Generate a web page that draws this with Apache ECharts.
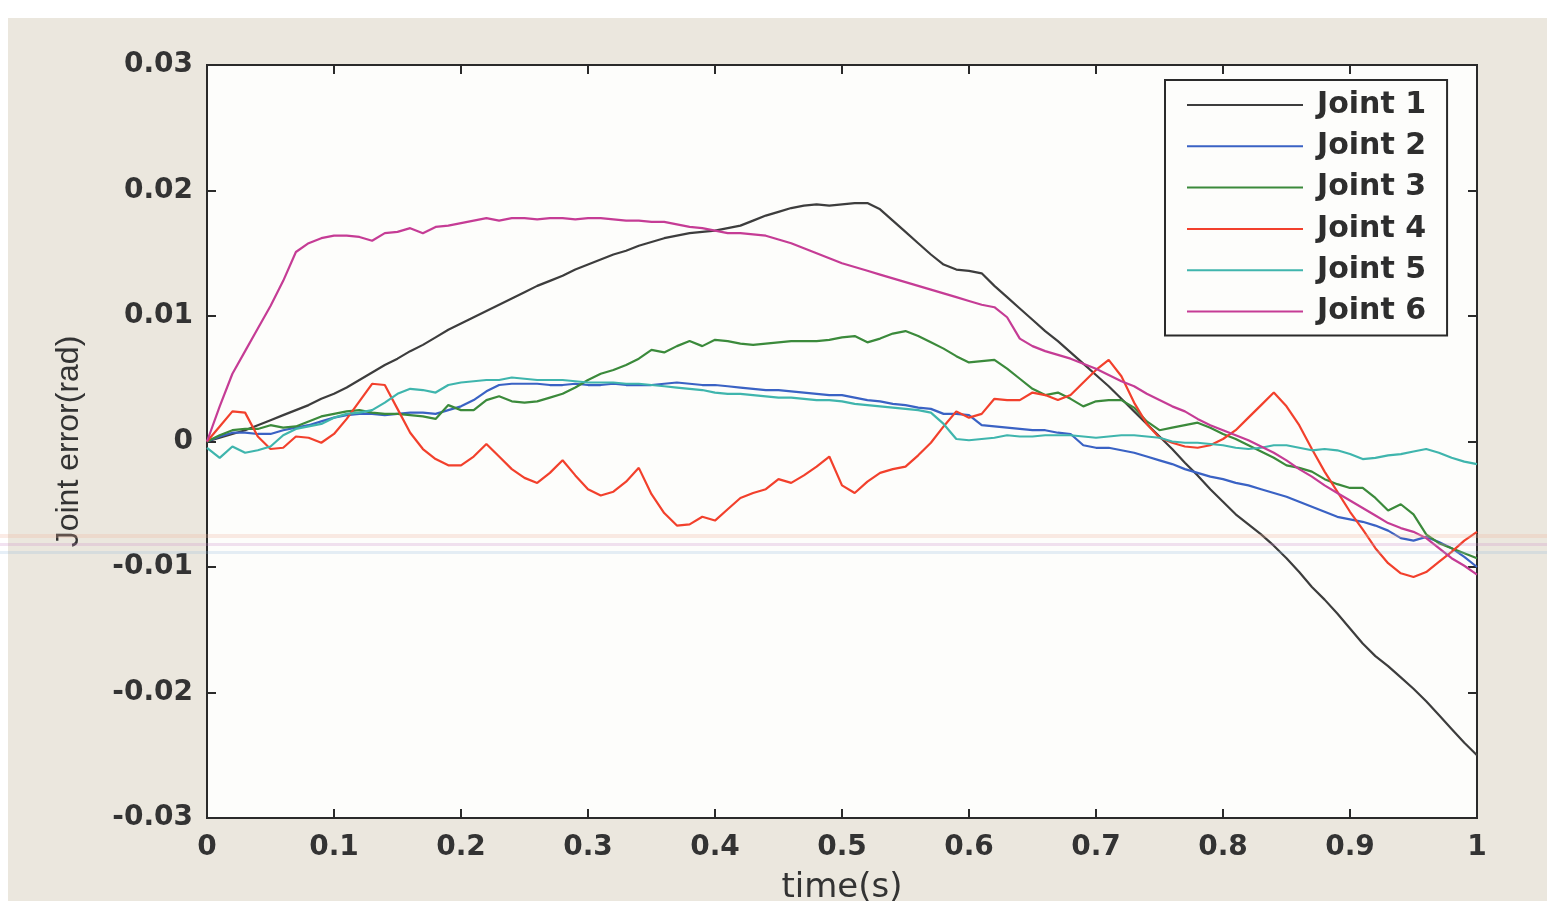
<!DOCTYPE html>
<html>
<head>
<meta charset="utf-8">
<script src="https://cdn.jsdelivr.net/npm/echarts@6/dist/echarts.min.js"></script>
<style>
  html, body { margin: 0; padding: 0; background: #ffffff; }
  #chart { width: 1547px; height: 901px; }
</style>
</head>
<body>
<div id="chart"></div>
<script>
// Sampling instants (s)
const time = [
  0.00,0.01,0.02,0.03,0.04,0.05,0.06,0.07,0.08,0.09,
  0.10,0.11,0.12,0.13,0.14,0.15,0.16,0.17,0.18,0.19,
  0.20,0.21,0.22,0.23,0.24,0.25,0.26,0.27,0.28,0.29,
  0.30,0.31,0.32,0.33,0.34,0.35,0.36,0.37,0.38,0.39,
  0.40,0.41,0.42,0.43,0.44,0.45,0.46,0.47,0.48,0.49,
  0.50,0.51,0.52,0.53,0.54,0.55,0.56,0.57,0.58,0.59,
  0.60,0.61,0.62,0.63,0.64,0.65,0.66,0.67,0.68,0.69,
  0.70,0.71,0.72,0.73,0.74,0.75,0.76,0.77,0.78,0.79,
  0.80,0.81,0.82,0.83,0.84,0.85,0.86,0.87,0.88,0.89,
  0.90,0.91,0.92,0.93,0.94,0.95,0.96,0.97,0.98,0.99,
  1.00
];

const seriesNames = ['Joint 1', 'Joint 2', 'Joint 3', 'Joint 4', 'Joint 5', 'Joint 6'];

// Joint tracking errors (rad)
const joint1 = [
  0, 0.0003, 0.0006, 0.0009, 0.0013, 0.0017, 0.0021, 0.0025, 0.0029, 0.0034,
  0.0038, 0.0043, 0.0049, 0.0055, 0.0061, 0.0066, 0.0072, 0.0077, 0.0083, 0.0089,
  0.0094, 0.0099, 0.0104, 0.0109, 0.0114, 0.0119, 0.0124, 0.0128, 0.0132, 0.0137,
  0.0141, 0.0145, 0.0149, 0.0152, 0.0156, 0.0159, 0.0162, 0.0164, 0.0166, 0.0167,
  0.0168, 0.0170, 0.0172, 0.0176, 0.0180, 0.0183, 0.0186, 0.0188, 0.0189, 0.0188,
  0.0189, 0.0190, 0.0190, 0.0185, 0.0176, 0.0167, 0.0158, 0.0149, 0.0141, 0.0137,
  0.0136, 0.0134, 0.0124, 0.0115, 0.0106, 0.0097, 0.0088, 0.0080, 0.0071, 0.0062,
  0.0053, 0.0044, 0.0034, 0.0024, 0.0014, 0.0004, -0.0006, -0.0017, -0.0027, -0.0038,
  -0.0048, -0.0058, -0.0066, -0.0074, -0.0083, -0.0093, -0.0104, -0.0116, -0.0126, -0.0137,
  -0.0149, -0.0161, -0.0171, -0.0179, -0.0188, -0.0197, -0.0207, -0.0218, -0.0229, -0.0240,
  -0.0250
];
const joint2 = [
  0, 0.0004, 0.0007, 0.0007, 0.0006, 0.0006, 0.0009, 0.0011, 0.0013, 0.0016,
  0.0019, 0.0021, 0.0022, 0.0022, 0.0021, 0.0022, 0.0023, 0.0023, 0.0022, 0.0025,
  0.0028, 0.0033, 0.0040, 0.0045, 0.0046, 0.0046, 0.0046, 0.0045, 0.0045, 0.0046,
  0.0045, 0.0045, 0.0046, 0.0045, 0.0045, 0.0045, 0.0046, 0.0047, 0.0046, 0.0045,
  0.0045, 0.0044, 0.0043, 0.0042, 0.0041, 0.0041, 0.0040, 0.0039, 0.0038, 0.0037,
  0.0037, 0.0035, 0.0033, 0.0032, 0.0030, 0.0029, 0.0027, 0.0026, 0.0022, 0.0022,
  0.0021, 0.0013, 0.0012, 0.0011, 0.0010, 0.0009, 0.0009, 0.0007, 0.0006, -0.0003,
  -0.0005, -0.0005, -0.0007, -0.0009, -0.0012, -0.0015, -0.0018, -0.0022, -0.0025, -0.0028,
  -0.0030, -0.0033, -0.0035, -0.0038, -0.0041, -0.0044, -0.0048, -0.0052, -0.0056, -0.0060,
  -0.0062, -0.0064, -0.0067, -0.0071, -0.0077, -0.0079, -0.0076, -0.0080, -0.0085, -0.0092,
  -0.0100
];
const joint3 = [
  0, 0.0005, 0.0009, 0.0010, 0.0010, 0.0013, 0.0011, 0.0012, 0.0016, 0.0020,
  0.0022, 0.0024, 0.0025, 0.0023, 0.0022, 0.0022, 0.0021, 0.0020, 0.0018, 0.0029,
  0.0025, 0.0025, 0.0033, 0.0036, 0.0032, 0.0031, 0.0032, 0.0035, 0.0038, 0.0043,
  0.0049, 0.0054, 0.0057, 0.0061, 0.0066, 0.0073, 0.0071, 0.0076, 0.0080, 0.0076,
  0.0081, 0.0080, 0.0078, 0.0077, 0.0078, 0.0079, 0.0080, 0.0080, 0.0080, 0.0081,
  0.0083, 0.0084, 0.0079, 0.0082, 0.0086, 0.0088, 0.0084, 0.0079, 0.0074, 0.0068,
  0.0063, 0.0064, 0.0065, 0.0058, 0.0050, 0.0042, 0.0037, 0.0039, 0.0034, 0.0028,
  0.0032, 0.0033, 0.0033, 0.0027, 0.0016, 0.0009, 0.0011, 0.0013, 0.0015, 0.0011,
  0.0006, 0.0002, -0.0003, -0.0008, -0.0013, -0.0019, -0.0021, -0.0024, -0.0030, -0.0034,
  -0.0037, -0.0037, -0.0045, -0.0055, -0.0050, -0.0058, -0.0074, -0.0081, -0.0085, -0.0089,
  -0.0093
];
const joint4 = [
  0, 0.0012, 0.0024, 0.0023, 0.0004, -0.0006, -0.0005, 0.0004, 0.0003, -0.0001,
  0.0006, 0.0018, 0.0032, 0.0046, 0.0045, 0.0026, 0.0007, -0.0006, -0.0014, -0.0019,
  -0.0019, -0.0012, -0.0002, -0.0012, -0.0022, -0.0029, -0.0033, -0.0025, -0.0015, -0.0027,
  -0.0038, -0.0043, -0.0040, -0.0032, -0.0021, -0.0042, -0.0057, -0.0067, -0.0066, -0.0060,
  -0.0063, -0.0054, -0.0045, -0.0041, -0.0038, -0.0030, -0.0033, -0.0027, -0.0020, -0.0012,
  -0.0035, -0.0041, -0.0032, -0.0025, -0.0022, -0.0020, -0.0011, -0.0001, 0.0012, 0.0024,
  0.0019, 0.0022, 0.0034, 0.0033, 0.0033, 0.0039, 0.0037, 0.0033, 0.0037, 0.0047,
  0.0057, 0.0065, 0.0052, 0.0031, 0.0014, 0.0003, -0.0001, -0.0004, -0.0005, -0.0003,
  0.0002, 0.0009, 0.0019, 0.0029, 0.0039, 0.0028, 0.0013, -0.0006, -0.0024, -0.0040,
  -0.0056, -0.0070, -0.0085, -0.0097, -0.0105, -0.0108, -0.0104, -0.0096, -0.0088, -0.0079,
  -0.0072
];
const joint5 = [
  -0.0005, -0.0013, -0.0004, -0.0009, -0.0007, -0.0004, 0.0005, 0.0010, 0.0012, 0.0014,
  0.0019, 0.0022, 0.0023, 0.0025, 0.0031, 0.0038, 0.0042, 0.0041, 0.0039, 0.0045,
  0.0047, 0.0048, 0.0049, 0.0049, 0.0051, 0.0050, 0.0049, 0.0049, 0.0049, 0.0048,
  0.0047, 0.0047, 0.0047, 0.0046, 0.0046, 0.0045, 0.0044, 0.0043, 0.0042, 0.0041,
  0.0039, 0.0038, 0.0038, 0.0037, 0.0036, 0.0035, 0.0035, 0.0034, 0.0033, 0.0033,
  0.0032, 0.0030, 0.0029, 0.0028, 0.0027, 0.0026, 0.0025, 0.0023, 0.0014, 0.0002,
  0.0001, 0.0002, 0.0003, 0.0005, 0.0004, 0.0004, 0.0005, 0.0005, 0.0005, 0.0004,
  0.0003, 0.0004, 0.0005, 0.0005, 0.0004, 0.0003, 0.0000, -0.0001, -0.0001, -0.0002,
  -0.0003, -0.0005, -0.0006, -0.0005, -0.0003, -0.0003, -0.0005, -0.0007, -0.0006, -0.0007,
  -0.0010, -0.0014, -0.0013, -0.0011, -0.0010, -0.0008, -0.0006, -0.0009, -0.0013, -0.0016,
  -0.0018
];
const joint6 = [
  0, 0.0028, 0.0054, 0.0072, 0.0090, 0.0108, 0.0128, 0.0151, 0.0158, 0.0162,
  0.0164, 0.0164, 0.0163, 0.0160, 0.0166, 0.0167, 0.0170, 0.0166, 0.0171, 0.0172,
  0.0174, 0.0176, 0.0178, 0.0176, 0.0178, 0.0178, 0.0177, 0.0178, 0.0178, 0.0177,
  0.0178, 0.0178, 0.0177, 0.0176, 0.0176, 0.0175, 0.0175, 0.0173, 0.0171, 0.0170,
  0.0168, 0.0166, 0.0166, 0.0165, 0.0164, 0.0161, 0.0158, 0.0154, 0.0150, 0.0146,
  0.0142, 0.0139, 0.0136, 0.0133, 0.0130, 0.0127, 0.0124, 0.0121, 0.0118, 0.0115,
  0.0112, 0.0109, 0.0107, 0.0099, 0.0082, 0.0076, 0.0072, 0.0069, 0.0066, 0.0062,
  0.0058, 0.0053, 0.0048, 0.0044, 0.0038, 0.0033, 0.0028, 0.0024, 0.0018, 0.0013,
  0.0009, 0.0005, 0.0001, -0.0004, -0.0009, -0.0015, -0.0022, -0.0028, -0.0035, -0.0041,
  -0.0047, -0.0053, -0.0059, -0.0065, -0.0069, -0.0072, -0.0077, -0.0085, -0.0093, -0.0099,
  -0.0106
];

const xTickValues = [0, 0.1, 0.2, 0.3, 0.4, 0.5, 0.6, 0.7, 0.8, 0.9, 1];
const xTickLabels = ['0', '0.1', '0.2', '0.3', '0.4', '0.5', '0.6', '0.7', '0.8', '0.9', '1'];
const yTickValues = [-0.03, -0.02, -0.01, 0, 0.01, 0.02, 0.03];
const yTickLabels = ['-0.03', '-0.02', '-0.01', '0', '0.01', '0.02', '0.03'];

const lineColors = ['#3d3d3d', '#3a62c4', '#3b8a3b', '#f2402c', '#3fb5ad', '#c53c95'];
const allSeries = [joint1, joint2, joint3, joint4, joint5, joint6];

function tickLabel(values, labels) {
  return function (v) {
    for (let i = 0; i < values.length; i++) {
      if (Math.abs(v - values[i]) < 1e-9) return labels[i];
    }
    return '';
  };
}

const tickFont = {
  fontFamily: 'DejaVu Sans',
  fontWeight: 'bold',
  fontSize: 28,
  color: '#333333'
};

const frameLine = { show: true, onZero: false, lineStyle: { color: '#2a2a2a', width: 2 } };
const innerTick = { show: true, inside: true, length: 9, lineStyle: { color: '#2a2a2a', width: 2 } };

const chart = echarts.init(document.getElementById('chart'), null, { renderer: 'canvas' });

chart.setOption({
  backgroundColor: '#ffffff',
  animation: false,
  graphic: [
    {
      type: 'rect',
      z: -10,
      shape: { x: 8, y: 18, width: 1539, height: 883 },
      style: { fill: '#ebe7de' }
    },
    // faint horizontal scan streaks across the sheet
    {
      type: 'rect', z: 100, silent: true,
      shape: { x: 0, y: 534, width: 1547, height: 4 },
      style: { fill: 'rgba(240,175,150,0.25)' }
    },
    {
      type: 'rect', z: 100, silent: true,
      shape: { x: 0, y: 543, width: 1547, height: 3 },
      style: { fill: 'rgba(205,140,200,0.25)' }
    },
    {
      type: 'rect', z: 100, silent: true,
      shape: { x: 0, y: 551, width: 1547, height: 3 },
      style: { fill: 'rgba(140,180,220,0.22)' }
    }
  ],
  grid: {
    left: 207,
    right: 70,
    top: 65,
    bottom: 83,
    containLabel: false,
    outerBoundsMode: 'none',
    show: true,
    backgroundColor: '#fdfdfb',
    borderColor: '#2a2a2a',
    borderWidth: 2
  },
  legend: {
    orient: 'vertical',
    left: 1165,
    top: 80,
    data: seriesNames,
    backgroundColor: '#fdfdfb',
    borderColor: '#2a2a2a',
    borderWidth: 2,
    padding: [10, 21, 9, 22],
    itemWidth: 116,
    itemHeight: 20,
    itemGap: 11.3,
    icon: 'path://M0,9 L116,9 L116,11 L0,11 Z',
    textStyle: {
      fontFamily: 'DejaVu Sans',
      fontWeight: 'bold',
      fontSize: 30,
      lineHeight: 30,
      color: '#2e2e2e',
      padding: [0, 0, 0, 9]
    }
  },
  xAxis: [
    {
      type: 'value',
      min: 0,
      max: 1,
      interval: 0.1,
      position: 'bottom',
      name: 'time(s)',
      nameLocation: 'middle',
      nameGap: 53,
      nameTextStyle: {
        fontFamily: 'DejaVu Sans',
        fontSize: 34,
        color: '#333333'
      },
      axisLine: frameLine,
      axisTick: innerTick,
      axisLabel: Object.assign({ margin: 16, formatter: tickLabel(xTickValues, xTickLabels) }, tickFont),
      splitLine: { show: false }
    },
    {
      type: 'value',
      min: 0,
      max: 1,
      interval: 0.1,
      position: 'top',
      axisLine: frameLine,
      axisTick: innerTick,
      axisLabel: { show: false },
      splitLine: { show: false }
    }
  ],
  yAxis: [
    {
      type: 'value',
      min: -0.03,
      max: 0.03,
      interval: 0.01,
      position: 'left',
      name: 'Joint error(rad)',
      nameLocation: 'middle',
      nameGap: 122,
      nameTextStyle: {
        fontFamily: 'Liberation Sans',
        fontSize: 32,
        color: '#333333'
      },
      axisLine: frameLine,
      axisTick: innerTick,
      axisLabel: Object.assign({ margin: 14, padding: [8, 0, 0, 0], formatter: tickLabel(yTickValues, yTickLabels) }, tickFont),
      splitLine: { show: false }
    },
    {
      type: 'value',
      min: -0.03,
      max: 0.03,
      interval: 0.01,
      position: 'right',
      axisLine: frameLine,
      axisTick: innerTick,
      axisLabel: { show: false },
      splitLine: { show: false }
    }
  ],
  series: seriesNames.map(function (name, k) {
    return {
      name: name,
      type: 'line',
      xAxisIndex: 0,
      yAxisIndex: 0,
      showSymbol: false,
      symbol: 'none',
      smooth: false,
      color: lineColors[k],
      lineStyle: { color: lineColors[k], width: 2.2 },
      data: time.map(function (t, i) { return [t, allSeries[k][i]]; })
    };
  })
});
</script>
</body>
</html>
